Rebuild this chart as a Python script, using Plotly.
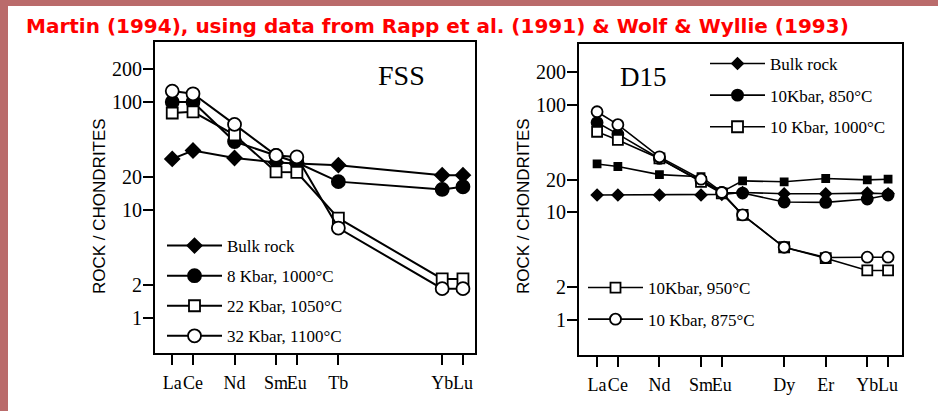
import plotly.graph_objects as go

W, H = 938, 411

# Rare-earth elements placed by atomic number
FSS_ELEMENTS = ["La", "Ce", "Nd", "Sm", "Eu", "Tb", "Yb", "Lu"]
FSS_Z = [57, 58, 60, 62, 63, 65, 70, 71]
fss_bulk = [29.7, 35.5, 30.3, 27.5, 27.0, 26.0, 21.0, 21.0]
fss_8kbar = [100, 100, 43, 32, 27.5, 18.3, 15.5, 16.4]
fss_22kbar = [79, 81, 49.5, 22.5, 22.3, 8.4, 2.3, 2.3]
fss_32kbar = [126, 119, 62, 32, 31, 6.8, 1.87, 1.87]

D15_ELEMENTS = ["La", "Ce", "Nd", "Sm", "Eu", "Gd", "Dy", "Er", "Yb", "Lu"]
D15_Z = [57, 58, 60, 62, 63, 64, 66, 68, 70, 71]
D15_TICK_ELEMENTS = ["La", "Ce", "Nd", "Sm", "Eu", "Dy", "Er", "Yb", "Lu"]
D15_TICK_Z = [57, 58, 60, 62, 63, 66, 68, 70, 71]
d15_bulk = [14.4, 14.4, 14.4, 14.4, 14.6, 15.2, 14.8, 14.8, 15.0, 14.8]
d15_850 = [68, 53, 31.5, 19.6, 15.2, 15.0, 12.4, 12.3, 13.2, 14.4]
d15_1000 = [28, 26.5, 22.3, 21.3, 15.4, 19.5, 19.1, 20.5, 19.9, 20.2]
d15_950 = [55.8, 46.8, 31.5, 19.1, 14.9, 9.4, 4.7, 3.72, 2.86, 2.86]
d15_875 = [85.7, 65, 32.6, 20.2, 15.2, 9.4, 4.7, 3.78, 3.8, 3.8]

Y_TICKS = [1, 2, 10, 20, 100, 200]
TITLE = "Martin (1994), using data from Rapp et al. (1991) & Wolf & Wyllie (1993)"

SERIF = "Liberation Serif, Times New Roman, serif"
SANS = "Liberation Sans, Arial, sans-serif"
WIDE_SANS = "DejaVu Sans, Verdana, sans-serif"


def px(x):
    return x / W


def py(y):
    return 1 - y / H


def marker(symbol, size, filled):
    return dict(symbol=symbol, size=size,
                color="black" if filled else "white",
                line=dict(color="black", width=1.8))


fig = go.Figure()


def add(x, y, name, mk, axis, legend, lw=1.8, show=True):
    xa, ya = axis
    fig.add_trace(go.Scatter(
        x=x, y=y, name=name, mode="lines+markers",
        line=dict(color="black", width=lw), marker=mk,
        xaxis=xa, yaxis=ya, legend=legend, legendgroup=name,
        showlegend=show, cliponaxis=False,
    ))


# FSS panel
add(FSS_Z, fss_bulk, "Bulk rock", marker("diamond", 11, True), ("x", "y"), "legend", 2)
add(FSS_Z, fss_8kbar, "8 Kbar, 1000°C", marker("circle", 13, True), ("x", "y"), "legend", 2)
add(FSS_Z, fss_22kbar, "22 Kbar, 1050°C", marker("square", 11, False), ("x", "y"), "legend", 2)
add(FSS_Z, fss_32kbar, "32 Kbar, 1100°C", marker("circle", 13, False), ("x", "y"), "legend", 2)

# D15 panel
add(D15_Z, d15_bulk, "Bulk rock ", marker("diamond", 8.5, True), ("x2", "y2"), "legend2", 1.6)
add(D15_Z, d15_850, "10Kbar, 850°C", marker("circle", 11, True), ("x2", "y2"), "legend2", 1.6)
add(D15_Z, d15_1000, "10 Kbar, 1000°C", marker("square", 7, True), ("x2", "y2"), "legend2", 1.6,
    show=False)
# legend key for the 1000°C run
fig.add_trace(go.Scatter(
    x=[None], y=[None], name="10 Kbar, 1000°C", mode="lines+markers",
    line=dict(color="black", width=1.6), marker=marker("square", 11, False),
    xaxis="x2", yaxis="y2", legend="legend2", legendgroup="10 Kbar, 1000°C key",
))
add(D15_Z, d15_950, "10Kbar, 950°C", marker("square", 10, False), ("x2", "y2"), "legend3", 1.6)
add(D15_Z, d15_875, "10 Kbar, 875°C", marker("circle", 11, False), ("x2", "y2"), "legend3", 1.6)

axis_common = dict(
    showline=True, linecolor="black", linewidth=2, mirror=True,
    showgrid=False, zeroline=False, ticks="outside", ticklen=10,
    tickwidth=2, tickcolor="black",
)
x_font = dict(family=SERIF, size=18, color="black")
y_font = dict(family=SERIF, size=20, color="black")

fig.update_layout(
    width=W, height=H, autosize=False,
    margin=dict(l=0, r=0, t=0, b=0),
    paper_bgcolor="white", plot_bgcolor="white",
    showlegend=True,
    xaxis=dict(domain=[px(155), px(475)], range=[56.17, 71.58],
               tickvals=FSS_Z, ticktext=FSS_ELEMENTS, anchor="y", tickangle=0,
               ticklabelstandoff=2, tickfont=x_font, **axis_common),
    yaxis=dict(domain=[py(353), py(42)], type="log", range=[-0.324, 2.555],
               tickvals=Y_TICKS, ticktext=[str(v) for v in Y_TICKS], anchor="x",
               ticklabelstandoff=-3, tickfont=y_font, **axis_common),
    xaxis2=dict(domain=[px(579), px(902)], range=[56.13, 71.67],
                tickvals=D15_TICK_Z, ticktext=D15_TICK_ELEMENTS, anchor="y2", tickangle=0,
                ticklabelstandoff=2, tickfont=x_font, **axis_common),
    yaxis2=dict(domain=[py(355), py(44)], type="log", range=[-0.330, 2.563],
                tickvals=Y_TICKS, ticktext=[str(v) for v in Y_TICKS], anchor="x2",
                ticklabelstandoff=-3, tickfont=y_font, **axis_common),
)

legend_common = dict(
    bgcolor="rgba(0,0,0,0)", borderwidth=0,
    font=dict(family=SERIF, size=17, color="black"),
    itemwidth=55, traceorder="grouped",
    xanchor="left", yanchor="top",
)
fig.update_layout(
    legend=dict(x=px(162), y=py(228), tracegroupgap=5, **legend_common),
    legend2=dict(x=px(705), y=py(46), tracegroupgap=6.5, **legend_common),
    legend3=dict(x=px(583), y=py(270), tracegroupgap=6.5, **legend_common),
)

# framing bands of the slide
fig.add_shape(type="rect", xref="paper", yref="paper", x0=0, x1=px(8), y0=0, y1=1,
              fillcolor="#BA6B6B", line=dict(width=0), layer="below")
fig.add_shape(type="rect", xref="paper", yref="paper", x0=0, x1=1, y0=py(6), y1=1,
              fillcolor="#BA6B6B", line=dict(width=0), layer="below")

fig.add_annotation(text=TITLE, xref="paper", yref="paper", x=px(24), y=py(26),
                   xanchor="left", yanchor="middle", showarrow=False,
                   font=dict(family=WIDE_SANS, size=20, color="#FF0000", weight="bold"))
fig.add_annotation(text="FSS", xref="paper", yref="paper", x=px(401), y=py(75),
                   xanchor="center", yanchor="middle", showarrow=False,
                   font=dict(family=SERIF, size=28, color="black"))
fig.add_annotation(text="D15", xref="paper", yref="paper", x=px(643), y=py(77),
                   xanchor="center", yanchor="middle", showarrow=False,
                   font=dict(family=SERIF, size=27, color="black"))
for xc in (99, 523):
    fig.add_annotation(text="ROCK / CHONDRITES", xref="paper", yref="paper",
                       x=px(xc), y=py(206), textangle=-90,
                       xanchor="center", yanchor="middle", showarrow=False,
                       font=dict(family=SANS, size=17, color="black"))

fig.write_html("out.html")
